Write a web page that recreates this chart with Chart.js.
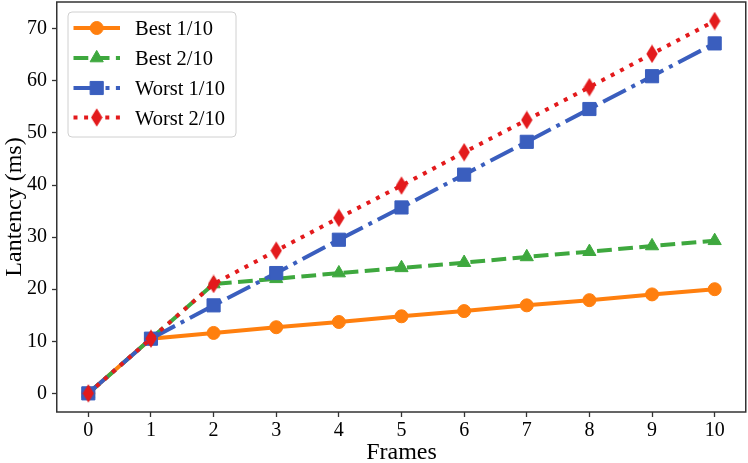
<!DOCTYPE html>
<html><head><meta charset="utf-8">
<script src="https://cdn.jsdelivr.net/npm/chart.js@4/dist/chart.umd.min.js"></script>
<style>html,body{margin:0;padding:0;background:#fff;} #wrap{width:748px;height:463px;position:relative;}</style>
</head><body><div id="wrap"><canvas id="c" width="748" height="463"></canvas></div>
<script>
// ---- data ----
const frames = [0, 1, 2, 3, 4, 5, 6, 7, 8, 9, 10];
const best1  = [0, 10.5, 11.6, 12.7, 13.7, 14.8, 15.8, 16.9, 17.9, 19.0, 20.0];
const best2  = [0, 10.5, 21.0, 22.0, 23.1, 24.1, 25.1, 26.2, 27.2, 28.3, 29.3];
const worst1 = [0, 10.5, 16.9, 23.1, 29.5, 35.7, 42.0, 48.3, 54.6, 60.9, 67.2];
const worst2 = [0, 10.5, 21.0, 27.4, 33.7, 39.9, 46.3, 52.5, 58.8, 65.2, 71.5];
const seriesNames = ['Best 1/10', 'Best 2/10', 'Worst 1/10', 'Worst 2/10'];
const xTicks = [0, 1, 2, 3, 4, 5, 6, 7, 8, 9, 10];
const yTicks = [0, 10, 20, 30, 40, 50, 60, 70];
const xTitle = 'Frames';
const yTitle = 'Lantency (ms)';

const FONT = "'Liberation Serif', 'Times New Roman', serif";
const colors = ['#ff7f0e', '#3ea83e', '#3a5ebe', '#e31a1c'];

// thin diamond marker glyph
function makeDiamond(color) {
  const c = document.createElement('canvas');
  c.width = 12; c.height = 19;
  const g = c.getContext('2d');
  g.fillStyle = color;
  g.beginPath();
  g.moveTo(6, 0.3); g.lineTo(11.7, 9.5); g.lineTo(6, 18.7); g.lineTo(0.3, 9.5);
  g.closePath(); g.fill();
  return c;
}
const diamond = makeDiamond(colors[3]);

function pts(vals) { return frames.map((f, i) => ({x: f, y: vals[i]})); }

const styles = [
  {dash: [], pointStyle: 'circle', radius: 6.5, order: 4},
  {dash: [14.8, 6.4], pointStyle: 'triangle', radius: 7.6, order: 3},
  {dash: [25.6, 6.4, 4, 6.4], pointStyle: 'rect', radius: 9.3, order: 2},
  {dash: [4, 6.6], pointStyle: diamond, radius: 9, order: 1}
];
const allVals = [best1, best2, worst1, worst2];

const datasets = allVals.map((v, i) => ({
  label: seriesNames[i],
  data: pts(v),
  borderColor: colors[i],
  backgroundColor: colors[i],
  borderWidth: 4,
  borderDash: styles[i].dash,
  borderCapStyle: 'butt',
  pointStyle: styles[i].pointStyle,
  pointRadius: styles[i].radius,
  pointBorderWidth: 1,
  pointBorderColor: colors[i],
  pointBackgroundColor: colors[i],
  tension: 0,
  clip: false,
  order: styles[i].order
}));

function drawMarker(ctx, i, x, y) {
  const col = colors[i];
  ctx.save();
  ctx.fillStyle = col; ctx.strokeStyle = col; ctx.lineWidth = 1; ctx.setLineDash([]);
  const st = styles[i];
  ctx.beginPath();
  if (st.pointStyle === 'circle') {
    ctx.arc(x, y, st.radius, 0, Math.PI * 2);
    ctx.fill(); ctx.stroke();
  } else if (st.pointStyle === 'triangle') {
    const r = st.radius;
    for (let k = 0; k < 3; k++) {
      const a = k * 2 * Math.PI / 3;
      const px = x + Math.sin(a) * r, py = y - Math.cos(a) * r;
      if (k === 0) ctx.moveTo(px, py); else ctx.lineTo(px, py);
    }
    ctx.closePath(); ctx.fill(); ctx.stroke();
  } else if (st.pointStyle === 'rect') {
    const s = Math.SQRT1_2 * st.radius;
    ctx.rect(x - s, y - s, 2 * s, 2 * s); ctx.fill(); ctx.stroke();
  } else {
    ctx.drawImage(diamond, x - diamond.width / 2, y - diamond.height / 2);
  }
  ctx.restore();
}

const framePlugin = {
  id: 'framePlugin',
  afterDraw(chart) {
    const ctx = chart.ctx, a = chart.chartArea;
    ctx.save();
    ctx.strokeStyle = '#333333';
    ctx.lineWidth = 1.5;
    ctx.setLineDash([]);
    ctx.strokeRect(a.left - 0.25, a.top, a.right - a.left, a.bottom - a.top);
    // legend
    const bx = 68, by = 12, bw = 168, bh = 125, r = 4;
    ctx.beginPath();
    ctx.moveTo(bx + r, by); ctx.lineTo(bx + bw - r, by); ctx.arcTo(bx + bw, by, bx + bw, by + r, r);
    ctx.lineTo(bx + bw, by + bh - r); ctx.arcTo(bx + bw, by + bh, bx + bw - r, by + bh, r);
    ctx.lineTo(bx + r, by + bh); ctx.arcTo(bx, by + bh, bx, by + bh - r, r);
    ctx.lineTo(bx, by + r); ctx.arcTo(bx, by, bx + r, by, r);
    ctx.closePath();
    ctx.fillStyle = 'rgba(255,255,255,0.8)';
    ctx.fill();
    ctx.strokeStyle = '#d0d0d0';
    ctx.lineWidth = 1;
    ctx.stroke();
    const rows = [28, 58, 88, 117.5];
    for (let i = 0; i < seriesNames.length; i++) {
      const y = rows[i];
      ctx.save();
      ctx.strokeStyle = colors[i];
      ctx.lineWidth = 4;
      ctx.lineCap = 'butt';
      ctx.setLineDash(styles[i].dash);
      ctx.beginPath(); ctx.moveTo(73.5, y); ctx.lineTo(120, y); ctx.stroke();
      ctx.restore();
      drawMarker(ctx, i, 96.7, y);
      ctx.fillStyle = '#000';
      ctx.font = '20.5px ' + FONT;
      ctx.textBaseline = 'alphabetic';
      ctx.textAlign = 'left';
      ctx.fillText(seriesNames[i], 135, y + 7);
    }
    ctx.restore();
  }
};

new Chart(document.getElementById('c'), {
  type: 'line',
  data: {datasets},
  options: {
    responsive: false,
    animation: false,
    devicePixelRatio: 1,
    layout: {autoPadding: false, padding: {top: 2, right: 2, left: 0, bottom: 0}},
    plugins: {legend: {display: false}, tooltip: {enabled: false}},
    scales: {
      x: {
        type: 'linear', min: -0.5, max: 10.5,
        afterFit(s) { s.height = 51; s.paddingLeft = 0; s.paddingRight = 0; },
        afterBuildTicks(s) { s.ticks = xTicks.map(v => ({value: v})); },
        grid: {drawOnChartArea: false, drawTicks: true, tickLength: 5, tickColor: '#333', tickWidth: 1.3},
        border: {display: false},
        ticks: {font: {family: FONT, size: 20}, color: '#000', padding: 2, maxRotation: 0, autoSkip: false},
        title: {display: true, text: xTitle, font: {family: FONT, size: 24, lineHeight: 0.85}, color: '#000', padding: {top: 0, bottom: 0}}
      },
      y: {
        type: 'linear', min: -3.58, max: 75.15,
        afterFit(s) { s.width = 57; s.paddingTop = 0; s.paddingBottom = 0; },
        afterBuildTicks(s) { s.ticks = yTicks.map(v => ({value: v})); },
        grid: {drawOnChartArea: false, drawTicks: true, tickLength: 5, tickColor: '#333', tickWidth: 1.3},
        border: {display: false},
        ticks: {font: {family: FONT, size: 20}, color: '#000', padding: 5, autoSkip: false},
        title: {display: true, text: yTitle, font: {family: FONT, size: 24, lineHeight: 1.25}, color: '#000', padding: {top: 0, bottom: 0}}
      }
    }
  },
  plugins: [framePlugin]
});
</script>
</body></html>
